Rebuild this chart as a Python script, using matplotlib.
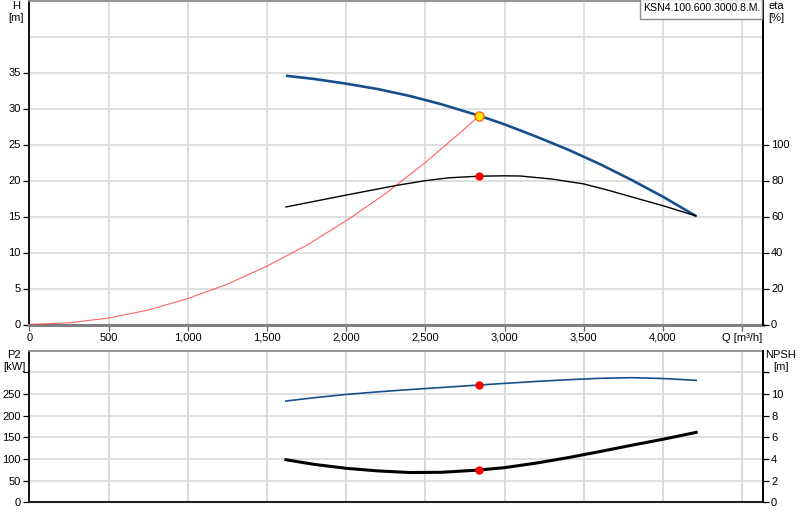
import matplotlib
matplotlib.use("Agg")
import matplotlib.pyplot as plt
from matplotlib.patches import Rectangle

plt.rcParams['font.family'] = ['Liberation Sans', 'DejaVu Sans']

# ---- data ----
q_pump = [1620, 1800, 2000, 2200, 2400, 2600, 2840, 3000, 3200, 3400, 3600, 3800, 4000, 4210]
head = [34.55, 34.1, 33.45, 32.7, 31.75, 30.6, 29.0, 27.8, 26.1, 24.3, 22.3, 20.1, 17.75, 15.05]

q_eta = [1620, 2000, 2320, 2500, 2650, 2840, 3000, 3100, 3300, 3500, 3650, 3790, 4000, 4210]
eta = [65.3, 71.9, 77.3, 79.9, 81.5, 82.4, 82.6, 82.5, 80.8, 78.1, 74.7, 71.2, 66.0, 60.3]

q_sys = [0, 250, 500, 750, 1000, 1250, 1500, 1750, 2000, 2250, 2500, 2750, 2840]
h_sys = [0, 0.23, 0.9, 2.0, 3.6, 5.6, 8.1, 11.0, 14.4, 18.2, 22.5, 27.2, 29.0]

q_p2 = [1620, 1800, 2000, 2200, 2400, 2600, 2840, 3000, 3200, 3400, 3600, 3800, 4000, 4210]
p2 = [233.8, 241.5, 249.0, 255.0, 260.2, 265.0, 270.8, 274.5, 279.0, 283.0, 286.2, 287.7, 285.8, 281.6]

q_npsh = [1620, 1800, 2000, 2200, 2400, 2600, 2840, 3000, 3200, 3400, 3600, 3800, 4000, 4210]
npsh = [3.93, 3.5, 3.14, 2.9, 2.75, 2.77, 2.98, 3.2, 3.62, 4.12, 4.68, 5.26, 5.82, 6.46]

duty_q = 2840
duty_h = 29.0
duty_eta = 82.4
duty_p2 = 270.8
duty_npsh = 2.98

x_ticks = [0, 500, 1000, 1500, 2000, 2500, 3000, 3500, 4000, 4500]
x_labels = ['0', '500', '1,000', '1,500', '2,000', '2,500', '3,000', '3,500', '4,000', 'Q [m\u00b3/h]']
h_ticks = [0, 5, 10, 15, 20, 25, 30, 35]
eta_ticks = [0, 20, 40, 60, 80, 100]
p2_ticks = [0, 50, 100, 150, 200, 250, 300]
p2_labels = ['0', '50', '100', '150', '200', '250', '']
npsh_ticks = [0, 2, 4, 6, 8, 10, 12]
npsh_labels = ['0', '2', '4', '6', '8', '10', '']
title = 'KSN4.100.600.3000.8.M.'

# ---- styles ----
BLUE = '#174f8c'
GRID = '#d9d9d9'
XMAX = 4630
FS = 8

fig = plt.figure(figsize=(8, 5.2), dpi=100)
W, H = 800, 520
L, R = 29.3, 762.7
ax = fig.add_axes([L / W, 1 - 324.5 / H, (R - L) / W, 324.0 / H])
axb = fig.add_axes([L / W, 1 - 502.3 / H, (R - L) / W, 151.6 / H])


def style(a, bot_col, bot_lw):
    a.set_xlim(0, XMAX)
    a.set_xticks(x_ticks)
    a.spines['left'].set_color('black')
    a.spines['left'].set_linewidth(1.3)
    a.spines['right'].set_color('black')
    a.spines['right'].set_linewidth(1.3)
    a.spines['top'].set_color('#8c8c8c')
    a.spines['top'].set_linewidth(1.3)
    a.spines['bottom'].set_color(bot_col)
    a.spines['bottom'].set_linewidth(bot_lw)
    a.tick_params(axis='both', labelsize=FS, length=4, width=0.9, pad=2)
    a.set_axisbelow(True)


def right_axis(a):
    for s in a.spines.values():
        s.set_visible(False)
    a.spines['right'].set_visible(True)
    a.spines['right'].set_color('black')
    a.spines['right'].set_linewidth(1.3)
    a.tick_params(axis='y', labelsize=FS, length=4, width=0.9, pad=2)


# ---- top panel ----
style(ax, '#808080', 2.2)
ax.set_ylim(0, 45)
ax.set_yticks(h_ticks)
ax.set_xticklabels(x_labels)
ax.tick_params(axis='x', color='#606060')
ax.grid(True, color=GRID, lw=1.2)
ax.axhline(40, color=GRID, lw=1.2, zorder=0.5)

ax2 = ax.twinx()
ax2.set_ylim(0, 180)
ax2.set_yticks(eta_ticks)
right_axis(ax2)

ax.plot(q_sys, h_sys, color='#ff3030', lw=0.8, alpha=0.75, zorder=3)
ax2.plot(q_eta, eta, color='black', lw=1.0, zorder=3)
ax.plot(q_pump, head, color=BLUE, lw=1.9, zorder=4, solid_capstyle='butt')
ax.plot([duty_q], [duty_h], 'o', ms=6.5, mfc='#ffe600', mec='#ff6a00', mew=1.0, zorder=6)
ax2.plot([duty_q], [duty_eta], 'o', ms=5, mfc='red', mec='red', zorder=6)

# title box
fig.patches.append(Rectangle((639.5 / W, 1 - 19 / H), (762 - 639.5) / W, 20 / H,
                             transform=fig.transFigure, fc='white', ec='#8c8c8c', lw=1.0, zorder=10))
fig.text(643 / W, 1 - 8 / H, title, ha='left', va='center', fontsize=7.6, zorder=11)

fig.text(16 / W, 1 - 1 / H, 'H\n[m]', ha='center', va='top', fontsize=FS, linespacing=1.2)
fig.text(776 / W, 1 - 1 / H, 'eta\n[%]', ha='center', va='top', fontsize=FS, linespacing=1.2)

# ---- bottom panel ----
style(axb, '#202020', 1.5)
axb.set_ylim(0, 350)
axb.set_yticks(p2_ticks)
axb.set_yticklabels(p2_labels)
axb.set_xticklabels([''] * len(x_ticks))
axb.tick_params(axis='x', length=0)
axb.grid(True, color=GRID, lw=1.2)
axb.vlines(x_ticks[1:], 0, 350, colors=GRID, lw=1.2, zorder=1)

axb2 = axb.twinx()
axb2.set_ylim(0, 14)
axb2.set_yticks(npsh_ticks)
axb2.set_yticklabels(npsh_labels)
right_axis(axb2)

axb.plot(q_p2, p2, color=BLUE, lw=1.2, zorder=4)
axb2.plot(q_npsh, npsh, color='black', lw=2.2, zorder=4)
axb.plot([duty_q], [duty_p2], 'o', ms=5, mfc='red', mec='red', zorder=6)
axb2.plot([duty_q], [duty_npsh], 'o', ms=5, mfc='red', mec='red', zorder=6)

fig.text(14 / W, 1 - 350 / H, 'P2\n[kW]', ha='center', va='top', fontsize=FS, linespacing=1.2)
fig.text(781 / W, 1 - 350 / H, 'NPSH\n[m]', ha='center', va='top', fontsize=FS, linespacing=1.2)

fig.savefig('out.png', dpi=100)
